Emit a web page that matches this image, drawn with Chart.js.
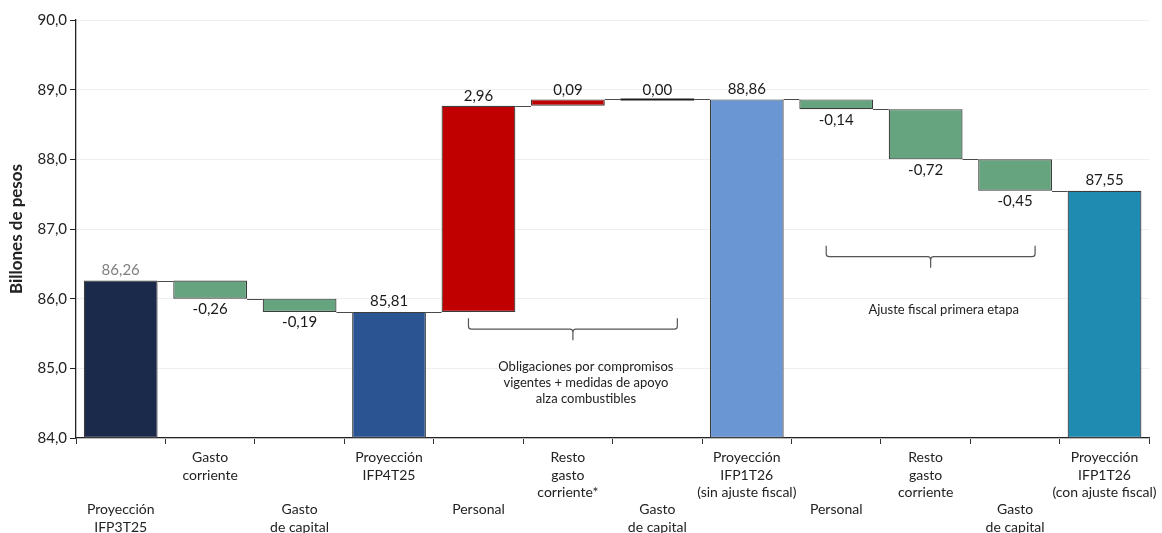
<!DOCTYPE html>
<html>
<head>
<meta charset="utf-8">
<script src="https://cdn.jsdelivr.net/npm/chart.js@4.4.1/dist/chart.umd.min.js"></script>
<style>
  html, body { margin: 0; padding: 0; background: #ffffff; overflow: hidden; }
  #wrap { width: 1162px; height: 533px; position: relative; }
</style>
</head>
<body>
<div id="wrap"><canvas id="c" width="1162" height="533"></canvas></div>
<script>
// Category labels (lower-row labels are pushed down with blank lines)
const categories = [
  ['', '', '', 'Proyección', 'IFP3T25'],
  ['Gasto', 'corriente'],
  ['', '', '', 'Gasto', 'de capital'],
  ['Proyección', 'IFP4T25'],
  ['', '', '', 'Personal'],
  ['Resto', 'gasto', 'corriente*'],
  ['', '', '', 'Gasto', 'de capital'],
  ['Proyección', 'IFP1T26', '(sin ajuste fiscal)'],
  ['', '', '', 'Personal'],
  ['Resto', 'gasto', 'corriente'],
  ['', '', '', 'Gasto', 'de capital'],
  ['Proyección', 'IFP1T26', '(con ajuste fiscal)']
];

// Level bars (billones de pesos)
const totals  = [86.26, null, null, 85.81, null, null, null, 88.86, null, null, null, 87.55];
// Variations between levels
const changes = [null, -0.26, -0.19, null, 2.96, 0.09, 0.00, null, -0.14, -0.72, -0.45, null];

// Y axis range and ticks
const yMin = 84;
const yMax = 90;
const yStep = 1;

// Colours
const totalColors = ['#1b2a4a', null, null, '#2b5592', null, null, null, '#6a96d3', null, null, null, '#1f8bb0'];
const upColor = '#c00000';
const downColor = '#65a47e';

// Bracket annotations
const brackets = [
  { from: 4, to: 6, top: 85.72, text: ['Obligaciones por compromisos', 'vigentes + medidas de apoyo', 'alza combustibles'], textY: 85.02 },
  { from: 8, to: 10, top: 86.76, text: ['Ajuste fiscal primera etapa'], textY: 85.84 }
];

// Floating [start, end] segments for the waterfall
let level = 0;
const segments = categories.map((_, i) => {
  if (totals[i] !== null) {
    level = totals[i];
    return [yMin, totals[i]];
  }
  const start = level;
  level = Math.round((level + changes[i]) * 100) / 100;
  return [start, level];
});
const endLevels = segments.map((s, i) => totals[i] !== null ? totals[i] : s[1]);

const barColors = categories.map((_, i) => {
  if (totals[i] !== null) return totalColors[i];
  return changes[i] >= 0 ? upColor : downColor;
});

const fmt = v => v.toFixed(2).replace('.', ',');
const FONT = "Lato, 'Open Sans', sans-serif";

const waterfallPlugin = {
  id: 'waterfallExtras',
  beforeDatasetsDraw(chart) {
    const ctx = chart.ctx;
    const meta = chart.getDatasetMeta(0);
    const y = chart.scales.y;
    ctx.save();
    ctx.strokeStyle = '#4a4a4a';
    ctx.lineWidth = 1;
    for (let i = 0; i < meta.data.length - 1; i++) {
      const a = meta.data[i], b = meta.data[i + 1];
      const py = Math.round(y.getPixelForValue(endLevels[i])) + 0.5;
      ctx.beginPath();
      ctx.moveTo(a.x + a.width / 2, py);
      ctx.lineTo(b.x - b.width / 2, py);
      ctx.stroke();
    }
    ctx.restore();
  },
  afterDatasetsDraw(chart) {
    const ctx = chart.ctx;
    const meta = chart.getDatasetMeta(0);
    const x = chart.scales.x;
    const y = chart.scales.y;
    ctx.save();
    // zero-height variations drawn as a line
    meta.data.forEach((bar, i) => {
      if (totals[i] === null && changes[i] === 0) {
        const py = y.getPixelForValue(segments[i][1]);
        ctx.strokeStyle = '#1e1e1e';
        ctx.lineWidth = 2;
        ctx.beginPath();
        ctx.moveTo(bar.x - bar.width / 2, py);
        ctx.lineTo(bar.x + bar.width / 2, py);
        ctx.stroke();
      }
    });
    // value labels
    ctx.font = "15px " + FONT;
    ctx.textAlign = 'center';
    meta.data.forEach((bar, i) => {
      let txt, py, base;
      if (totals[i] !== null) {
        txt = fmt(totals[i]);
        py = y.getPixelForValue(totals[i]) - 3;
        base = 'bottom';
        ctx.fillStyle = i === 0 ? '#808080' : '#1a1a1a';
      } else if (changes[i] >= 0) {
        txt = fmt(changes[i]);
        py = y.getPixelForValue(segments[i][1]) - 2;
        base = 'bottom';
        ctx.fillStyle = '#1a1a1a';
      } else {
        txt = fmt(changes[i]);
        py = y.getPixelForValue(segments[i][1]) + 3;
        base = 'top';
        ctx.fillStyle = '#1a1a1a';
      }
      ctx.textBaseline = base;
      ctx.fillText(txt, bar.x, py);
    });
    // brackets with captions
    ctx.strokeStyle = '#555555';
    ctx.lineWidth = 1.2;
    brackets.forEach(b => {
      const left = x.getPixelForValue(b.from) - 10;
      const right = x.getPixelForValue(b.to) + 20;
      const mid = (left + right) / 2;
      const top = y.getPixelForValue(b.top);
      const h = top + 11;
      const tip = top + 22;
      const r = 3;
      ctx.beginPath();
      ctx.moveTo(left, top);
      ctx.lineTo(left, h - r);
      ctx.quadraticCurveTo(left, h, left + r, h);
      ctx.lineTo(mid - r, h);
      ctx.quadraticCurveTo(mid, h, mid, h + r);
      ctx.lineTo(mid, tip);
      ctx.moveTo(mid, h + r);
      ctx.quadraticCurveTo(mid, h, mid + r, h);
      ctx.lineTo(right - r, h);
      ctx.quadraticCurveTo(right, h, right, h - r);
      ctx.lineTo(right, top);
      ctx.stroke();
      ctx.fillStyle = '#222222';
      ctx.font = "13px " + FONT;
      ctx.textBaseline = 'middle';
      const ty = y.getPixelForValue(b.textY);
      b.text.forEach((line, k) => ctx.fillText(line, mid + 13, ty + k * 16));
    });
    ctx.restore();
  }
};

new Chart(document.getElementById('c'), {
  type: 'bar',
  data: {
    labels: categories,
    datasets: [{
      data: segments,
      backgroundColor: barColors,
      borderColor: '#3c3c3c',
      borderWidth: 1.2,
      borderSkipped: false,
      barPercentage: 0.825,
      categoryPercentage: 1.0
    }]
  },
  options: {
    responsive: false,
    animation: false,
    devicePixelRatio: 1,
    layout: { padding: { top: 20, right: 10, left: 0, bottom: 0 } },
    plugins: {
      legend: { display: false },
      tooltip: { enabled: false }
    },
    scales: {
      x: {
        afterFit(scale) { scale.height = 95; },
        grid: {
          display: true,
          offset: true,
          drawOnChartArea: false,
          drawTicks: true,
          tickLength: 6,
          tickColor: '#333333',
          tickWidth: 1
        },
        border: { display: true, color: '#222222', width: 1.3 },
        ticks: {
          autoSkip: false,
          maxRotation: 0,
          minRotation: 0,
          padding: 5,
          color: '#222222',
          font: { family: FONT, size: 14, lineHeight: 1.24 }
        }
      },
      y: {
        min: yMin,
        max: yMax,
        afterFit(scale) { scale.width = 76; },
        grid: {
          color: '#efefef',
          lineWidth: 1,
          drawTicks: true,
          tickLength: 6,
          tickColor: '#222222'
        },
        border: { display: true, color: '#222222', width: 1.3 },
        ticks: {
          stepSize: yStep,
          padding: 3,
          color: '#222222',
          font: { family: FONT, size: 15 },
          callback: v => v.toFixed(1).replace('.', ',')
        },
        title: {
          display: true,
          text: 'Billones de pesos',
          color: '#222222',
          font: { family: FONT, size: 17, weight: 'bold' },
          padding: { top: 6, bottom: 0 }
        }
      }
    }
  },
  plugins: [waterfallPlugin]
});
</script>
</body>
</html>
